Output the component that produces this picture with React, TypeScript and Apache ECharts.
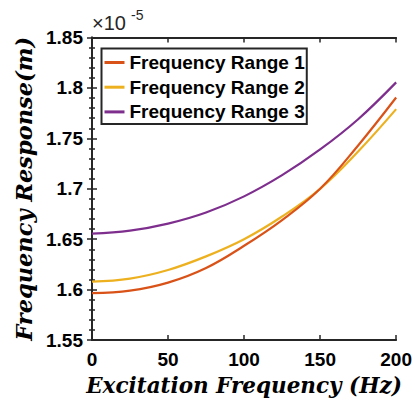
import React, { useEffect, useRef } from "react";
import * as echarts from "echarts";

const freq = [0, 25, 50, 75, 100, 125, 150, 175, 200];
const range1 = [1.5965, 1.599, 1.607, 1.6215, 1.6435, 1.669, 1.7, 1.743, 1.7905];
const range2 = [1.608, 1.611, 1.6195, 1.633, 1.65, 1.6725, 1.7, 1.737, 1.779];
const range3 = [1.6555, 1.6585, 1.6655, 1.6765, 1.6925, 1.7135, 1.739, 1.769, 1.8055];
const seriesNames = ["Frequency Range 1", "Frequency Range 2", "Frequency Range 3"];
const colors = ["#D95319", "#EDB120", "#7E2F8E"];

const AX = "#262626";

export default function App() {
  const ref = useRef<HTMLDivElement>(null);
  useEffect(() => {
    if (!ref.current) return;
    const chart = echarts.init(ref.current, null, { renderer: "svg" });
    const data = [range1, range2, range3];
    const labelFont = {
      fontFamily: "Liberation Sans, Arial, sans-serif",
      fontWeight: "bold" as const,
      fontSize: 19,
      color: "#000",
    };
    const titleFont = {
      fontFamily: "DejaVu Serif, serif",
      fontWeight: "bold" as const,
      fontStyle: "italic" as const,
      fontSize: 21.5,
      color: "#000",
    };
    chart.setOption({
      animation: false,
      backgroundColor: "#fff",
      title: [
        {
          text: "×10",
          left: 92,
          top: 13,
          padding: 0,
          textStyle: { fontSize: 20, fontWeight: "normal", fontFamily: "Liberation Sans, Arial", color: "#262626" },
        },
        {
          text: "-5",
          left: 131,
          top: 8,
          padding: 0,
          textStyle: { fontSize: 14, fontWeight: "normal", fontFamily: "Liberation Sans, Arial", color: "#262626" },
        },
      ],
      grid: { left: 92, right: 18.5, top: 37.5, bottom: 58.7, containLabel: false },
      legend: {
        orient: "vertical",
        left: 101.5,
        top: 48.5,
        data: seriesNames,
        icon: "rect",
        itemWidth: 20,
        itemHeight: 3,
        itemGap: 4.7,
        padding: [4, 2, 2, 3],
        borderColor: AX,
        borderWidth: 2,
        backgroundColor: "#fff",
        textStyle: { ...labelFont, lineHeight: 20 },
      },
      xAxis: [
        {
          type: "value",
          min: 0,
          max: 200,
          interval: 50,
          position: "bottom",
          name: "Excitation Frequency (Hz)",
          nameLocation: "middle",
          nameGap: 32,
          nameTextStyle: titleFont,
          axisLine: { show: true, lineStyle: { color: AX, width: 2 } },
          axisTick: { show: true, inside: true, length: 5, lineStyle: { color: AX, width: 1.5 } },
          axisLabel: { ...labelFont, margin: 10 },
          splitLine: { show: false },
        },
        {
          type: "value",
          min: 0,
          max: 200,
          interval: 50,
          position: "top",
          axisLine: { show: true, lineStyle: { color: AX, width: 2 } },
          axisTick: { show: true, inside: true, length: 5, lineStyle: { color: AX, width: 1.5 } },
          axisLabel: { show: false },
          splitLine: { show: false },
        },
      ],
      yAxis: [
        {
          type: "value",
          min: 1.55,
          max: 1.85,
          interval: 0.05,
          position: "left",
          name: "Frequency Response(m)",
          nameLocation: "middle",
          nameGap: 57,
          nameTextStyle: { ...titleFont, fontSize: 22.5 },
          axisLine: { show: true, lineStyle: { color: AX, width: 2 } },
          axisTick: { show: true, inside: true, length: 5, lineStyle: { color: AX, width: 1.5 } },
          minorTick: { show: true, splitNumber: 5, length: 3, lineStyle: { color: AX, width: 1.5 } },
          axisLabel: {
            ...labelFont,
            margin: 9,
            formatter: (v: number) => String(parseFloat(v.toFixed(2))),
          },
          splitLine: { show: false },
        },
        {
          type: "value",
          min: 1.55,
          max: 1.85,
          interval: 0.05,
          position: "right",
          axisLine: { show: true, lineStyle: { color: AX, width: 2 } },
          axisTick: { show: true, inside: true, length: 5, lineStyle: { color: AX, width: 1.5 } },
          minorTick: { show: true, splitNumber: 5, length: 3, lineStyle: { color: AX, width: 1.5 } },
          axisLabel: { show: false },
          splitLine: { show: false },
        },
      ],
      series: data.map((d, i) => ({
        name: seriesNames[i],
        type: "line",
        xAxisIndex: 0,
        yAxisIndex: 0,
        data: freq.map((f, j) => [f, d[j]]),
        smooth: 0.4,
        showSymbol: false,
        symbol: "none",
        lineStyle: { color: colors[i], width: 2.2 },
        itemStyle: { color: colors[i] },
        z: 3 - i,
      })),
    });
    return () => chart.dispose();
  }, []);
  return (
    <div
      ref={ref}
      style={{ position: "fixed", left: 0, top: 0, width: 415, height: 401 }}
    />
  );
}
